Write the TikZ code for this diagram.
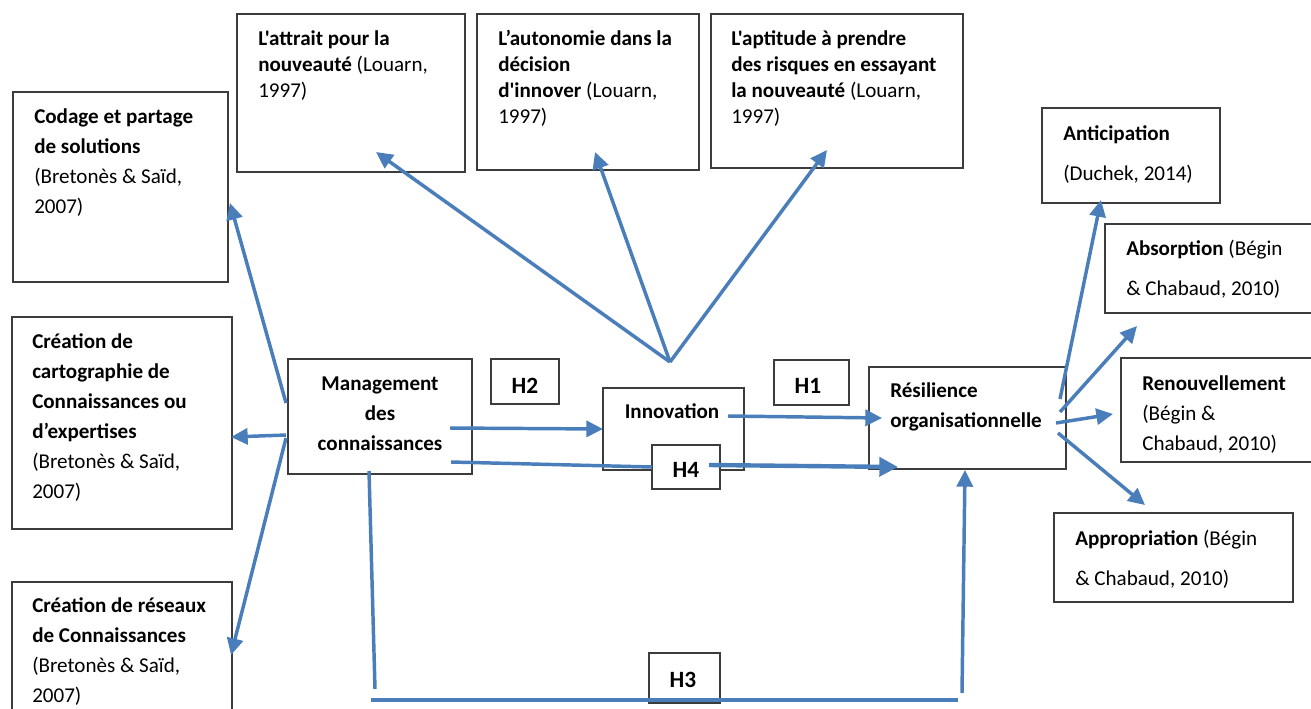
\documentclass[tikz,border=0pt]{standalone}
\usepackage{fontspec}
\newfontfamily\calibri{Carlito}
\usetikzlibrary{arrows.meta,fit}
\definecolor{arrowblue}{RGB}{74,126,187}
\definecolor{boxgray}{RGB}{60,60,60}
\tikzset{
  box/.style={draw=boxgray, line width=1.1pt, inner sep=0pt},
  hbox/.style={box, fill=white},
  txt/.style={inner sep=0pt, align=left, text=black, font=\calibri\fontsize{15.8}{22.5}\selectfont},
  txtn/.style={txt, font=\calibri\fontsize{15.8}{19.5}\selectfont},
  txtw/.style={txt, font=\calibri\fontsize{15.8}{30}\selectfont},
  hlab/.style={inner sep=0pt, text=black, font=\calibri\bfseries\fontsize{17.5}{20}\selectfont},
  conn/.style={draw=arrowblue, line width=2.6pt, -{Triangle[length=12.5pt,width=12pt]}},
  link/.style={draw=arrowblue, line width=2.6pt},
  bigconn/.style={draw=arrowblue, line width=3.3pt, -{Triangle[length=14pt,width=14pt]}},
}
\begin{document}
\begin{tikzpicture}[x=0.75pt,y=-0.75pt]
\useasboundingbox (0,0) rectangle (1311,708);
\fill[white] (0,0) rectangle (1311,708);

% boxes
\node[box, fit={(13,92)(228,282)}] (codage) {};
\node[box, fit={(237,14)(465,172)}] (attrait) {};
\node[box, fit={(477,14)(699,170)}] (autonomie) {};
\node[box, fit={(711,14)(963,168)}] (aptitude) {};
\node[box, fit={(1042,108)(1220,203)}] (anticipation) {};
\node[box, fit={(1105,224)(1320,313)}] (absorption) {};
\node[box, fit={(1121,358)(1320,462)}] (renouvellement) {};
\node[box, fit={(1054,513)(1293,602)}] (appropriation) {};
\node[box, fit={(869,367)(1066,469)}] (resilience) {};
\node[box, fit={(288,359)(472,474)}] (mgmt) {};
\node[box, fit={(603,388)(744,470)}] (innov) {};
\node[box, fit={(12,317)(232,529)}] (carto) {};
\node[box, fit={(12,582)(232,720)}] (reseaux) {};
\node[hbox, fit={(491,359)(559,404)}] (h2) {};
\node[hbox, fit={(774,360)(849,405)}] (h1) {};
\node[hbox, fit={(652,445)(720,489)}] (h4) {};
\node[hbox, fit={(649,653)(720,703)}] (h3) {};

% connector end points
\coordinate (mA) at (286,403);
\coordinate (mB) at (286,435);
\coordinate (mC) at (286,438);
\coordinate (tCod) at (230,203);
\coordinate (tCar) at (231,437);
\coordinate (tRes) at (231,655);
\coordinate (fan) at (670,362);
\coordinate (tAtt) at (376,152);
\coordinate (tAut) at (595,152);
\coordinate (tApt) at (827,150);
\coordinate (h2s) at (450,428);
\coordinate (h2e) at (603,429);
\coordinate (h4s) at (451,462);
\coordinate (h4m) at (652,467);
\coordinate (h4r) at (709,465);
\coordinate (h4e) at (898,467);
\coordinate (h1s) at (728,416);
\coordinate (h1e) at (882,418);
\coordinate (h3a) at (369,471);
\coordinate (h3b) at (375,689);
\coordinate (h3c) at (371,700);
\coordinate (h3d) at (958,700);
\coordinate (h3f) at (962,693);
\coordinate (h3e) at (965,470);
\coordinate (rA) at (1060,399);
\coordinate (rB) at (1060,412);
\coordinate (rC) at (1056,423);
\coordinate (rD) at (1058,433);
\coordinate (tAnt) at (1101,200);
\coordinate (tAbs) at (1137,326);
\coordinate (tRen) at (1113,414);
\coordinate (tApp) at (1145,505);

% connectors
\draw[conn] (mA) -- (tCod);
\draw[conn] (mB) -- (tCar);
\draw[conn] (mC) -- (tRes);
\draw[conn] (fan) -- (tAtt);
\draw[conn] (fan) -- (tAut);
\draw[conn] (fan) -- (tApt);
\draw[conn] (h2s) -- (h2e);
\draw[link] (h4s) -- (h4m);
\draw[bigconn] (h4r) -- (h4e);
\draw[conn] (h1s) -- (h1e);
\draw[link] (h3a) -- (h3b);
\draw[link] (h3c) -- (h3d);
\draw[conn] (h3f) -- (h3e);
\draw[conn] (rA) -- (tAnt);
\draw[conn] (rB) -- (tAbs);
\draw[conn] (rC) -- (tRen);
\draw[conn] (rD) -- (tApp);

% texts (anchor = baseline of the last line)
\node[txt, anchor=base west] (codageT) at (34,213) {\textbf{Codage et partage}\\\textbf{de solutions}\\(Bretonès \& Saïd,\\2007)};
\node[txtn, anchor=base west] (attraitT) at (258,97) {\textbf{L'attrait pour la}\\\textbf{nouveauté} (Louarn,\\1997)};
\node[txtn, anchor=base west] (autonomieT) at (498,123) {\textbf{L’autonomie dans la}\\\textbf{décision}\\\textbf{d'innover} (Louarn,\\1997)};
\node[txtn, anchor=base west] (aptitudeT) at (731,123) {\textbf{L'aptitude à prendre}\\\textbf{des risques en essayant}\\\textbf{la nouveauté} (Louarn,\\1997)};
\node[txtw, anchor=base west] (anticipationT) at (1063,180) {\textbf{Anticipation}\\(Duchek, 2014)};
\node[txtw, anchor=base west] (absorptionT) at (1126,295) {\textbf{Absorption} (Bégin\\\& Chabaud, 2010)};
\node[txt, anchor=base west] (renouvellementT) at (1142,450) {\textbf{Renouvellement}\\(Bégin \&\\Chabaud, 2010)};
\node[txtw, anchor=base west] (appropriationT) at (1075,585) {\textbf{Appropriation} (Bégin\\\& Chabaud, 2010)};
\node[txt, anchor=base west] (cartoT) at (32,498) {\textbf{Création de}\\\textbf{cartographie de}\\\textbf{Connaissances ou}\\\textbf{d’expertises}\\(Bretonès \& Saïd,\\2007)};
\node[txt, anchor=base west] (reseauxT) at (32,702) {\textbf{Création de réseaux}\\\textbf{de Connaissances}\\(Bretonès \& Saïd,\\2007)};
\node[txt, align=center, anchor=base] (mgmtT) at (380,450) {\textbf{Management}\\\textbf{des}\\\textbf{connaissances}};
\node[txt, anchor=base] (innovT) at (672,418) {\textbf{Innovation}};
\node[txt, anchor=base west] (resilienceT) at (890,427) {\textbf{Résilience}\\\textbf{organisationnelle}};
\node[hlab, anchor=base] (h2T) at (525,393) {H2};
\node[hlab, anchor=base] (h1T) at (808,393) {H1};
\node[hlab, anchor=base] (h4T) at (686,477) {H4};
\node[hlab, anchor=base] (h3T) at (683,687) {H3};
\end{tikzpicture}
\end{document}
